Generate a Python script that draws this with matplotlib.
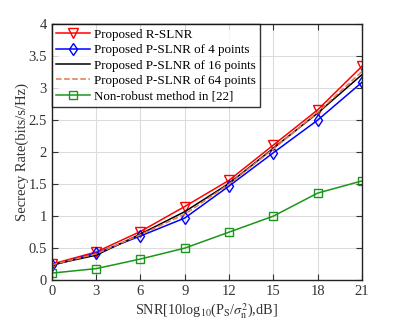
import numpy as np
import matplotlib
matplotlib.use("Agg")
import matplotlib.pyplot as plt

plt.rcParams['font.family'] = ['Liberation Serif', 'DejaVu Serif']
plt.rcParams['mathtext.fontset'] = 'stix'

snr = [0, 3, 6, 9, 12, 15, 18, 21]
r_slnr = [0.25, 0.44, 0.76, 1.15, 1.56, 2.11, 2.66, 3.34]
p_slnr_4 = [0.23, 0.42, 0.69, 0.97, 1.47, 1.99, 2.50, 3.09]
p_slnr_16 = [0.24, 0.39, 0.72, 1.07, 1.51, 2.06, 2.61, 3.21]
p_slnr_64 = [0.24, 0.41, 0.71, 1.03, 1.50, 2.05, 2.62, 3.26]
non_robust = [0.11, 0.18, 0.33, 0.50, 0.75, 1.00, 1.36, 1.55]

fig = plt.figure(figsize=(3.99, 3.22), dpi=100)
ax = fig.add_axes([0.130, 0.130, 0.777, 0.795])

ax.plot(snr, r_slnr, '-v', color='r', lw=1.1, ms=7, mfc='none', mew=1.0, label='Proposed R-SLNR')
ax.plot(snr, p_slnr_4, '-d', color='b', lw=1.1, ms=6.5, mfc='none', mew=1.0, label='Proposed P-SLNR of 4 points')
ax.plot(snr, p_slnr_16, '-', color='k', lw=1.1, label='Proposed P-SLNR of 16 points')
ax.plot(snr, p_slnr_64, '--', color='#e07a4a', lw=1.1, label='Proposed P-SLNR of 64 points')
ax.plot(snr, non_robust, '-s', color='#1a961a', lw=1.1, ms=5.5, mfc='none', mew=1.0, label='Non-robust method in [22]')

ax.set_xlim(0, 21)
ax.set_ylim(0, 4)
ax.set_xticks(np.arange(0, 22, 3))
ax.set_yticks(np.arange(0, 4.01, 0.5))
ax.set_yticklabels(['0', '0.5', '1', '1.5', '2', '2.5', '3', '3.5', '4'])
ax.grid(True, color='#dcdcdc', lw=0.8)
ax.set_axisbelow(True)
ax.tick_params(direction='in', top=True, right=True, labelsize=10.5, length=4, colors='#333333')
for sp in ax.spines.values():
    sp.set_linewidth(1.0)
    sp.set_color('#222222')

ax.set_xlabel(r'SNR[10log$_{10}$(P$_\mathrm{S}$/$\sigma_\mathrm{n}^2$),dB]', fontsize=10.3, color='#333333', labelpad=2)
ax.set_ylabel('Secrecy Rate(bits/s/Hz)', fontsize=10.5, color='#333333', labelpad=0)

leg = ax.legend(loc='upper left', fontsize=9.4, frameon=True, fancybox=False, edgecolor='k',
                borderaxespad=0, handlelength=2.6, handletextpad=0.25, labelspacing=0.25, borderpad=0.35)
leg.get_frame().set_linewidth(1.0)

fig.savefig('out.png', dpi=100)
